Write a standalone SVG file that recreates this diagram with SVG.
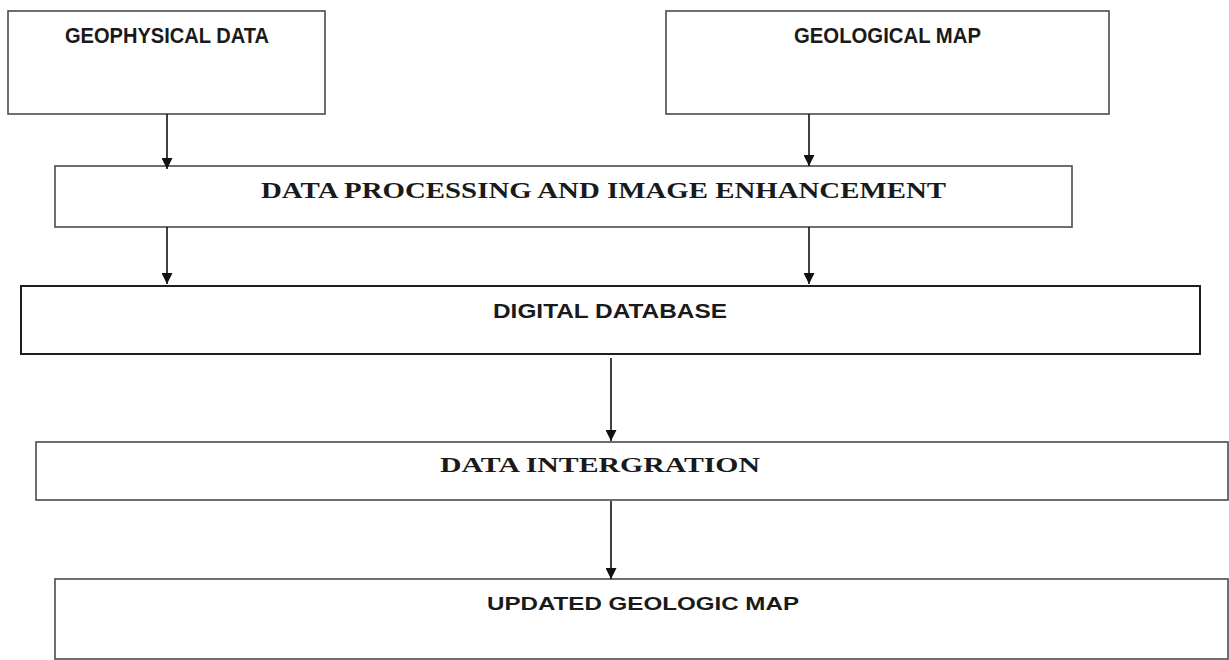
<svg xmlns="http://www.w3.org/2000/svg" width="1229" height="660" viewBox="0 0 1229 660">
<style>
.box{fill:#fff;stroke:#4a4a4a;stroke-width:1.6}
.dark{stroke:#1e1e1e;stroke-width:2}
.sans{font-family:"Liberation Sans",Arial,sans-serif;font-weight:bold;fill:#1a1a1a}
.serif{font-family:"Liberation Serif","Times New Roman",serif;font-weight:bold;fill:#1a1a1a}
.conn line{stroke:#111;stroke-width:1.6}
</style>
<defs>
<marker id="arr" viewBox="0 0 10 10" refX="10" refY="5" markerWidth="11" markerHeight="11" markerUnits="userSpaceOnUse" orient="auto">
<path d="M0,0 L10,5 L0,10 z" fill="#111"/>
</marker>
</defs>
<rect width="1229" height="660" fill="#fff"/>
<g id="geophysical">
<rect class="box" x="8" y="11" width="317" height="103"/>
<text class="sans" x="65" y="43" font-size="21.5" textLength="204" lengthAdjust="spacingAndGlyphs">GEOPHYSICAL DATA</text>
</g>
<g id="geological">
<rect class="box" x="666" y="11" width="443" height="103"/>
<text class="sans" x="794" y="43" font-size="21.5" textLength="187" lengthAdjust="spacingAndGlyphs">GEOLOGICAL MAP</text>
</g>
<g id="processing">
<rect class="box" x="55" y="166" width="1017" height="61"/>
<text class="serif" x="261" y="198" font-size="23" textLength="685" lengthAdjust="spacingAndGlyphs">DATA PROCESSING AND IMAGE ENHANCEMENT</text>
</g>
<g id="database">
<rect class="box dark" x="21" y="286" width="1179" height="68"/>
<text class="sans" x="493" y="318" font-size="20" textLength="234" lengthAdjust="spacingAndGlyphs">DIGITAL DATABASE</text>
</g>
<g id="integration">
<rect class="box" x="36" y="442" width="1192" height="58"/>
<text class="serif" x="440" y="472" font-size="21" textLength="320" lengthAdjust="spacingAndGlyphs">DATA INTERGRATION</text>
</g>
<g id="updated">
<rect class="box" x="55" y="579" width="1173" height="80"/>
<text class="sans" x="487" y="610" font-size="19" textLength="312" lengthAdjust="spacingAndGlyphs">UPDATED GEOLOGIC MAP</text>
</g>
<g id="connectors" class="conn">
<line x1="167" y1="114" x2="167" y2="169" marker-end="url(#arr)"/>
<line x1="809" y1="114" x2="809" y2="166" marker-end="url(#arr)"/>
<line x1="167" y1="227" x2="167" y2="284" marker-end="url(#arr)"/>
<line x1="809" y1="227" x2="809" y2="284" marker-end="url(#arr)"/>
<line x1="611" y1="358" x2="611" y2="441" marker-end="url(#arr)"/>
<line x1="611" y1="501" x2="611" y2="579" marker-end="url(#arr)"/>
</g>
</svg>
